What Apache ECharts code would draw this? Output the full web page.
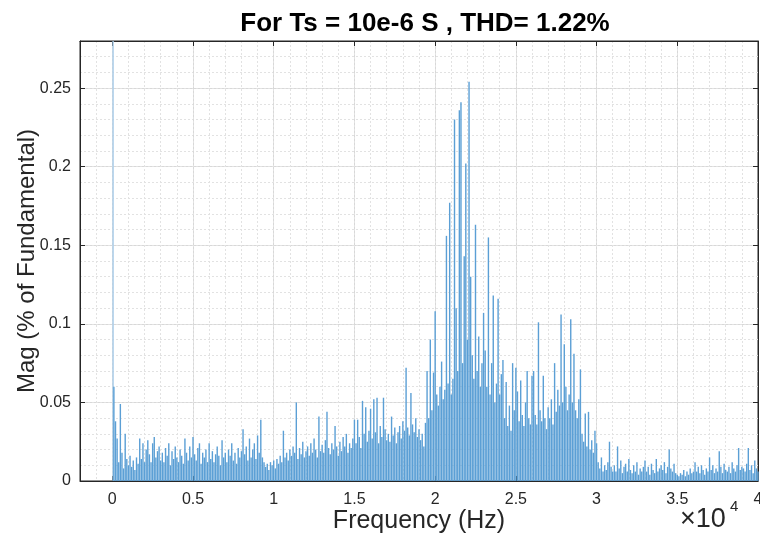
<!DOCTYPE html>
<html><head><meta charset="utf-8">
<script src="https://cdn.jsdelivr.net/npm/echarts@6/dist/echarts.min.js"></script>
<style>html,body{margin:0;padding:0;background:#fff}#c{width:760px;height:534px}</style>
</head><body><div id="c"></div>
<script>
// FFT bin spacing (Hz); bins start at 100 Hz
const binStepHz = 100;
// fundamental component (50 Hz, 100 % -> clipped by the axis)
const fundamentalHz = 50;
const fundamentalMag = 100;
// harmonic magnitudes (% of fundamental), 100 Hz bins
const mag0to10kHz = [
  0.060,0.038,0.027,0.012,0.049,0.018,0.008,0.030,0.014,0.010,
  0.016,0.009,0.013,0.007,0.015,0.011,0.027,0.014,0.024,0.012,
  0.020,0.026,0.017,0.012,0.024,0.028,0.015,0.019,0.022,0.013,
  0.018,0.012,0.021,0.016,0.024,0.010,0.019,0.014,0.022,0.015,
  0.012,0.020,0.016,0.011,0.027,0.018,0.013,0.022,0.015,0.028,
  0.017,0.013,0.021,0.024,0.011,0.018,0.015,0.020,0.012,0.024,
  0.014,0.019,0.012,0.017,0.022,0.016,0.010,0.026,0.015,0.018,
  0.012,0.020,0.016,0.024,0.013,0.018,0.011,0.021,0.015,0.019,
  0.033,0.017,0.022,0.013,0.027,0.015,0.020,0.024,0.014,0.029,
  0.018,0.039,0.015,0.012,0.009,0.011,0.007,0.012,0.010,0.013
];
const mag10to20kHz = [
  0.008,0.014,0.011,0.016,0.012,0.032,0.015,0.018,0.013,0.020,
  0.016,0.022,0.018,0.050,0.014,0.021,0.017,0.025,0.015,0.019,
  0.022,0.016,0.024,0.018,0.027,0.020,0.015,0.041,0.019,0.023,
  0.018,0.026,0.044,0.021,0.017,0.024,0.020,0.035,0.022,0.016,
  0.025,0.019,0.028,0.022,0.030,0.018,0.024,0.021,0.027,0.039,
  0.024,0.039,0.028,0.021,0.051,0.030,0.047,0.025,0.032,0.046,
  0.027,0.052,0.031,0.053,0.024,0.035,0.028,0.053,0.033,0.026,
  0.030,0.025,0.041,0.029,0.034,0.024,0.031,0.035,0.027,0.038,
  0.032,0.072,0.034,0.029,0.056,0.036,0.031,0.040,0.028,0.033,
  0.026,0.030,0.022,0.037,0.070,0.040,0.090,0.045,0.069,0.108
];
const mag20to30kHz = [
  0.055,0.048,0.060,0.076,0.052,0.058,0.156,0.062,0.177,0.055,
  0.065,0.230,0.110,0.070,0.236,0.241,0.075,0.143,0.202,0.090,
  0.254,0.130,0.080,0.065,0.163,0.070,0.092,0.060,0.075,0.107,
  0.083,0.060,0.155,0.055,0.075,0.118,0.050,0.062,0.116,0.055,
  0.068,0.077,0.040,0.063,0.035,0.048,0.032,0.075,0.045,0.072,
  0.057,0.038,0.064,0.042,0.035,0.050,0.070,0.040,0.036,0.067,
  0.070,0.042,0.036,0.101,0.045,0.038,0.067,0.040,0.033,0.047,
  0.040,0.052,0.036,0.075,0.044,0.058,0.048,0.106,0.050,0.087,
  0.060,0.045,0.055,0.103,0.050,0.081,0.045,0.040,0.052,0.071,
  0.030,0.025,0.043,0.022,0.044,0.020,0.026,0.018,0.032,0.024
];
const mag30to40kHz = [
  0.012,0.008,0.015,0.006,0.010,0.007,0.012,0.025,0.009,0.006,
  0.010,0.006,0.022,0.008,0.013,0.005,0.009,0.011,0.006,0.014,
  0.007,0.005,0.010,0.006,0.012,0.004,0.008,0.006,0.009,0.013,
  0.006,0.009,0.004,0.011,0.007,0.005,0.014,0.006,0.008,0.010,
  0.007,0.012,0.005,0.009,0.020,0.008,0.006,0.011,0.005,0.004,
  0.003,0.005,0.004,0.007,0.003,0.006,0.004,0.008,0.005,0.006,
  0.012,0.006,0.009,0.005,0.010,0.007,0.004,0.008,0.006,0.015,
  0.007,0.010,0.005,0.008,0.006,0.019,0.009,0.005,0.011,0.007,
  0.006,0.009,0.005,0.012,0.008,0.006,0.010,0.021,0.007,0.009,
  0.008,0.006,0.011,0.021,0.007,0.010,0.005,0.013,0.008,0.006
];
const xTickLabels = ['0','0.5','1','1.5','2','2.5','3','3.5','4'];
const titleText = 'For Ts = 10e-6 S , THD= 1.22%';
const xName = 'Frequency (Hz)';
const yName = 'Mag (% of Fundamental)';

const allMags = [].concat(mag0to10kHz, mag10to20kHz, mag20to30kHz, mag30to40kHz);
const barData = [{value:[fundamentalHz, fundamentalMag], itemStyle:{color:'#a9cdea'}}]
  .concat(allMags.map((m, i) => [(i + 1) * binStepHz, m]));

const FONT = '"Liberation Sans", Arial, Helvetica, sans-serif';
const AX = '#262626';
const chart = echarts.init(document.getElementById('c'), null, {renderer:'canvas'});
chart.setOption({
  animation: false,
  backgroundColor: '#fff',
  textStyle: {fontFamily: FONT},
  title: {text: titleText, left: 420, top: 6, textAlign: 'center',
    textStyle: {fontFamily: FONT, fontSize: 26, fontWeight: 'bold', color: '#000'}},
  grid: {left: 80, right: 2, top: 41, bottom: 53, show: true, borderColor: AX, borderWidth: 1,
    backgroundColor: '#fff', containLabel: false, outerBoundsMode: 'none'},
  graphic: [
    {type:'text', left: 680, top: 506, z: 10, style:{text:'×10', fontSize: 27, fontFamily: FONT, fill: AX}},
    {type:'text', left: 730, top: 499, z: 10, style:{text:'4', fontSize: 15, fontFamily: FONT, fill: AX}}
  ],
  xAxis: [
    {type:'value', min:-2000, max:40000, splitNumber:8, position:'bottom',
     axisLine:{show:true, onZero:false, lineStyle:{color:AX}},
     axisTick:{show:true, inside:true, length:5, lineStyle:{color:AX}},
     axisLabel:{showMinLabel:false, showMaxLabel:true, color:AX, fontSize:16, margin:11, fontFamily:FONT,
       formatter: v => (v >= 0 && v % 5000 === 0) ? xTickLabels[v / 5000] : ''},
     splitLine:{show:true, lineStyle:{color:'#d8d8d8', width:1}},
     name: xName, nameLocation:'middle', nameGap:28, nameMoveOverlap:false,
     nameTextStyle:{fontSize:25, color:AX, fontFamily:FONT}},
    {type:'value', min:-2000, max:40000, interval:1000, position:'bottom',
     axisLine:{show:false}, axisTick:{show:false}, axisLabel:{show:false},
     splitLine:{show:true, lineStyle:{color:'#e2e2e2', width:1, type:[2,2]}}},
    {type:'value', min:-2000, max:40000, splitNumber:8, position:'top',
     axisLine:{show:true, onZero:false, lineStyle:{color:AX}},
     axisTick:{show:true, inside:true, length:5, lineStyle:{color:AX}},
     axisLabel:{show:false}, splitLine:{show:false}}
  ],
  yAxis: [
    {type:'value', min:0, max:0.28, interval:0.05, position:'left',
     axisLine:{show:true, onZero:false, lineStyle:{color:AX}},
     axisTick:{show:true, inside:true, length:5, lineStyle:{color:AX}},
     axisLabel:{showMaxLabel:false, color:AX, fontSize:16, margin:9, fontFamily:FONT},
     splitLine:{show:true, lineStyle:{color:'#d8d8d8', width:1}},
     name: yName, nameLocation:'middle', nameGap:41, nameRotate:90, nameMoveOverlap:false,
     nameTextStyle:{fontSize:24, color:AX, fontFamily:FONT}},
    {type:'value', min:0, max:0.28, interval:0.01, position:'left',
     axisLine:{show:false}, axisTick:{show:false}, axisLabel:{show:false},
     splitLine:{show:true, lineStyle:{color:'#e2e2e2', width:1, type:[2,2]}}},
    {type:'value', min:0, max:0.28, interval:0.05, position:'right',
     axisLine:{show:true, onZero:false, lineStyle:{color:AX}},
     axisTick:{show:true, inside:true, length:5, lineStyle:{color:AX}},
     axisLabel:{show:false}, splitLine:{show:false}}
  ],
  series: [{
    type:'bar', xAxisIndex:0, yAxisIndex:0, data: barData,
    barWidth: 1.4, clip: true, large: false,
    itemStyle:{color:'#5b9fd5'}, emphasis:{disabled:true}
  }]
});
</script></body></html>
